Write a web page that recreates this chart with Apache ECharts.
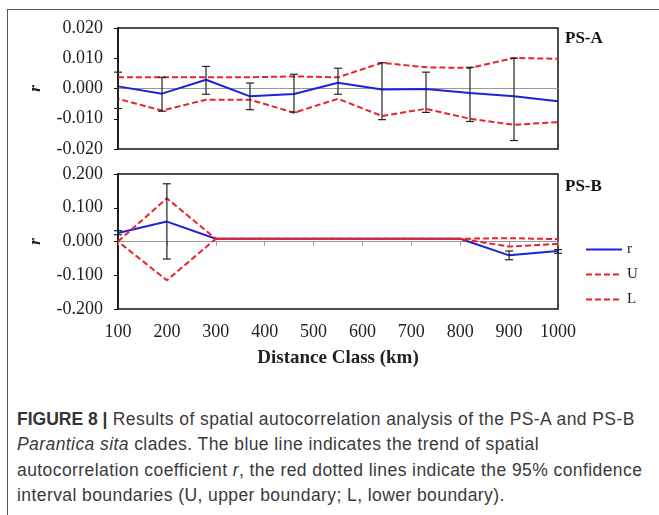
<!DOCTYPE html>
<html>
<head>
<meta charset="utf-8">
<script src="https://cdn.jsdelivr.net/npm/echarts@6/dist/echarts.min.js"></script>
<style>
  html, body { margin: 0; padding: 0; background: #fff; }
  #wrap { position: relative; width: 659px; height: 515px; overflow: hidden; }
  #chart { position: absolute; left: 0; top: 0; width: 659px; height: 380px; }
  #frameTop { position: absolute; left: 7px; top: 9px; width: 652px; height: 0; border-top: 1.5px solid #555; }
  #frameLeft { position: absolute; left: 7px; top: 9px; width: 0; height: 506px; border-left: 1.5px solid #555; }
  #caption {
    position: absolute; left: 17px; top: 407px; width: 640px;
    font-family: "Liberation Sans", Arial, sans-serif; font-size: 17.5px; line-height: 25.3px;
    letter-spacing: 0.42px; color: #3a3a3a; white-space: nowrap;
  }
  #caption b { color: #333; letter-spacing: 0; }
</style>
</head>
<body>
<div id="wrap">
  <div id="frameTop"></div>
  <div id="frameLeft"></div>
  <div id="chart"></div>
  <div id="caption">
    <b>FIGURE 8 |</b> Results of spatial autocorrelation analysis of the PS-A and PS-B<br>
    <i>Parantica sita</i> clades. The blue line indicates the trend of spatial<br>
    autocorrelation coefficient <i>r</i>, the red dotted lines indicate the 95% confidence<br>
    interval boundaries (U, upper boundary; L, lower boundary).
  </div>
</div>
<script>
// PS-A panel (11 points, x labels not shown)
const topClasses = ['100', '200', '300', '400', '500', '600', '700', '800', '900', '1000', '1100'];
const topR = [0.0007, -0.0017, 0.0029, -0.0026, -0.0018, 0.0019, -0.0003, -0.0002, -0.0015, -0.0026, -0.0042];
const topU = [0.0037, 0.0037, 0.0037, 0.0037, 0.0040, 0.0037, 0.0085, 0.0070, 0.0068, 0.0101, 0.0098];
const topL = [-0.0034, -0.0073, -0.0037, -0.0037, -0.0080, -0.0034, -0.0091, -0.0067, -0.0100, -0.0120, -0.0111];
const topErrLow = [-0.0066, -0.0075, -0.0019, -0.0070, -0.0078, -0.0019, -0.0103, -0.0079, -0.0109, -0.0172, null];
const topErrHigh = [0.0054, 0.0037, 0.0073, 0.0018, 0.0047, 0.0067, 0.0085, 0.0054, 0.0070, 0.0100, null];
const topTicks = [-0.02, -0.01, 0, 0.01, 0.02];

// PS-B panel
const bottomClasses = ['100', '200', '300', '400', '500', '600', '700', '800', '900', '1000'];
const bottomR = [0.025, 0.059, 0.008, 0.008, 0.008, 0.008, 0.008, 0.008, -0.041, -0.028];
const bottomU = [0.0, 0.128, 0.008, 0.008, 0.008, 0.008, 0.008, 0.008, 0.010, 0.007];
const bottomL = [0.0, -0.115, 0.008, 0.008, 0.008, 0.008, 0.008, 0.008, -0.015, -0.007];
const bottomErrLow = [0.020, -0.052, null, null, null, null, null, null, -0.054, -0.035];
const bottomErrHigh = [0.032, 0.171, null, null, null, null, null, null, -0.028, -0.024];
const bottomTicks = [-0.2, -0.1, 0, 0.1, 0.2];

const BLUE = '#1f22d8';
const RED = '#e8232b';
const SERIF = '"Liberation Serif", "Times New Roman", serif';
// U and L dashes are complementary so that where the two bounds coincide the line looks solid
const DASH_U = [6, 3];
const DASH_L = [1.5, 3, 4.5, 0];

function errData(lo, hi) {
  const out = [];
  lo.forEach((v, i) => {
    if (v != null && hi[i] != null) out.push([i, v, hi[i]]);
  });
  return out;
}

function renderErr(params, api) {
  const x = api.value(0);
  const p1 = api.coord([x, api.value(1)]);
  const p2 = api.coord([x, api.value(2)]);
  const cap = 4;
  const st = { stroke: '#222', lineWidth: 1.2 };
  return {
    type: 'group',
    children: [
      { type: 'line', shape: { x1: p1[0], y1: p1[1], x2: p2[0], y2: p2[1] }, style: st },
      { type: 'line', shape: { x1: p1[0] - cap, y1: p1[1], x2: p1[0] + cap, y2: p1[1] }, style: st },
      { type: 'line', shape: { x1: p2[0] - cap, y1: p2[1], x2: p2[0] + cap, y2: p2[1] }, style: st }
    ]
  };
}

function yAx(gridIndex, ticks) {
  return {
    type: 'value',
    gridIndex: gridIndex,
    min: ticks[0],
    max: ticks[ticks.length - 1],
    interval: ticks[1] - ticks[0],
    name: 'r',
    nameLocation: 'middle',
    nameGap: 74,
    nameRotate: 90,
    nameTextStyle: { fontFamily: SERIF, fontStyle: 'italic', fontWeight: 'bold', fontSize: 17, color: '#222' },
    axisLine: { show: true, lineStyle: { color: '#111', width: 1.5 } },
    axisTick: { show: true, length: 4, lineStyle: { color: '#111' } },
    axisLabel: {
      margin: 15,
      fontFamily: SERIF,
      fontSize: 18,
      color: '#222',
      formatter: v => v.toFixed(3)
    },
    splitLine: { show: false }
  };
}

const lineSeries = (name, xi, yi, data, color, dash) => ({
  name: name,
  type: 'line',
  xAxisIndex: xi,
  yAxisIndex: yi,
  data: data,
  symbol: 'none',
  lineStyle: { color: color, width: 2, type: dash || 'solid' },
  itemStyle: { color: color },
  z: dash ? 3 : 2
});

const option = {
  animation: false,
  backgroundColor: 'transparent',
  grid: [
    { left: 118, top: 28, width: 440, height: 121, show: true, borderColor: '#111', borderWidth: 1.5 },
    { left: 118, top: 174, width: 440, height: 135, show: true, borderColor: '#111', borderWidth: 1.5 }
  ],
  xAxis: [
    {
      type: 'category', gridIndex: 0, data: topClasses, boundaryGap: false,
      axisLine: { onZero: true, lineStyle: { color: '#999', width: 1 } },
      axisTick: { show: false }, axisLabel: { show: false }, splitLine: { show: false }
    },
    {
      type: 'category', gridIndex: 1, data: bottomClasses, boundaryGap: false, position: 'bottom',
      axisLine: { onZero: false, show: false },
      axisTick: { show: false },
      axisLabel: { margin: 14, fontFamily: SERIF, fontSize: 18, color: '#222' },
      name: 'Distance Class (km)',
      nameLocation: 'middle',
      nameGap: 40,
      nameTextStyle: { fontFamily: SERIF, fontWeight: 'bold', fontSize: 19, color: '#222' }
    },
    {
      type: 'category', gridIndex: 1, data: bottomClasses, boundaryGap: false, position: 'bottom',
      axisLine: { onZero: true, lineStyle: { color: '#999', width: 1 } },
      axisTick: { show: true, inside: false, length: 4, lineStyle: { color: '#999' } },
      axisLabel: { show: false }, splitLine: { show: false }
    }
  ],
  yAxis: [yAx(0, topTicks), yAx(1, bottomTicks)],
  legend: {
    orient: 'vertical',
    left: 580,
    top: 237,
    itemWidth: 36,
    itemHeight: 10,
    itemGap: 10,
    data: [
      { name: 'r' },
      { name: 'U' },
      { name: 'L', lineStyle: { type: DASH_U } }
    ],
    itemStyle: { opacity: 0 },
    textStyle: { fontFamily: SERIF, fontSize: 15, color: '#222' }
  },
  graphic: [
    { type: 'text', left: 565, top: 30, style: { text: 'PS-A', font: 'bold 17px ' + SERIF, fill: '#111' } },
    { type: 'text', left: 565, top: 178, style: { text: 'PS-B', font: 'bold 17px ' + SERIF, fill: '#111' } }
  ],
  series: [
    lineSeries('r', 0, 0, topR, BLUE),
    lineSeries('U', 0, 0, topU, RED, DASH_U),
    lineSeries('L', 0, 0, topL, RED, DASH_L),
    {
      type: 'custom', xAxisIndex: 0, yAxisIndex: 0, renderItem: renderErr,
      data: errData(topErrLow, topErrHigh), z: 4, silent: true
    },
    lineSeries('r', 2, 1, bottomR, BLUE),
    lineSeries('U', 2, 1, bottomU, RED, DASH_U),
    lineSeries('L', 2, 1, bottomL, RED, DASH_L),
    {
      type: 'custom', xAxisIndex: 2, yAxisIndex: 1, renderItem: renderErr,
      data: errData(bottomErrLow, bottomErrHigh), z: 4, silent: true
    }
  ]
};

const chart = echarts.init(document.getElementById('chart'), null, { renderer: 'canvas' });
chart.setOption(option);
window.addEventListener('resize', () => chart.resize());
</script>
</body>
</html>
